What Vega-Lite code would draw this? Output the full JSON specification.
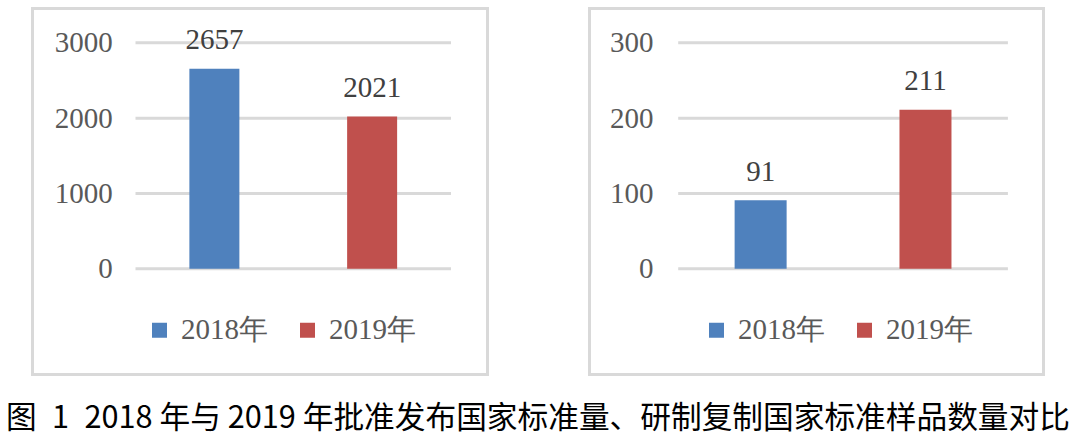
{
  "$schema": "https://vega.github.io/schema/vega-lite/v6.json",
  "background": "white",
  "padding": {"left": 5.5, "top": 6.5, "right": 8, "bottom": 4},
  "title": {
    "text": "图\u20021\u20022018 年与 2019 年批准发布国家标准量、研制复制国家标准样品数量对比",
    "orient": "bottom",
    "anchor": "middle",
    "font": "Noto Sans CJK SC",
    "fontSize": 30.7,
    "fontWeight": "normal",
    "color": "#000000",
    "offset": 28
  },
  "datasets": {
    "standards": [
      {"year": "2018年", "value": 2657},
      {"year": "2019年", "value": 2021}
    ],
    "samples": [
      {"year": "2018年", "value": 91},
      {"year": "2019年", "value": 211}
    ],
    "grid1": [{"g": 0}, {"g": 1000}, {"g": 2000}, {"g": 3000}],
    "grid2": [{"g": 0}, {"g": 100}, {"g": 200}, {"g": 300}]
  },
  "spacing": 98,
  "resolve": {"legend": {"color": "independent"}},
  "hconcat": [
    {
      "width": 455,
      "height": 366,
      "layer": [
        {
          "data": {"name": "grid1"},
          "mark": {"type": "rule", "color": "#d9d9d9", "strokeWidth": 3},
          "encoding": {
            "y": {
              "field": "g", "type": "quantitative",
              "scale": {"domain": [0, 3000], "range": [260.3, 34.3], "nice": false, "zero": true},
              "axis": {"offset": -79.8, "values": [0, 1000, 2000, 3000]}
            },
            "x": {"datum": "2018年", "type": "nominal", "bandPosition": 0, "scale": {"type": "band", "domain": ["2018年", "2019年"], "range": [103, 418.5], "paddingInner": 0, "paddingOuter": 0}, "axis": null},
            "x2": {"datum": "2019年", "bandPosition": 1}
          }
        },
        {
          "data": {"name": "standards"},
          "mark": {"type": "bar", "size": 50},
          "encoding": {
            "x": {"field": "year", "type": "nominal", "axis": null},
            "y": {"field": "value", "type": "quantitative", "axis": {"offset": -79.8, "values": [0, 1000, 2000, 3000]}},
            "color": {
              "field": "year", "type": "nominal",
              "scale": {"domain": ["2018年", "2019年"], "range": ["#4f81bd", "#c0504d"]},
              "legend": {"orient": "none", "legendX": 112.5, "legendY": 307, "direction": "horizontal", "title": null, "symbolType": "square", "symbolSize": 225, "symbolStrokeWidth": 0, "labelFont": "Liberation Serif", "labelFontSize": 29, "labelColor": "#595959", "labelOffset": 7, "columnPadding": 25, "padding": 0}
            }
          }
        },
        {
          "data": {"name": "standards"},
          "mark": {"type": "text", "font": "Liberation Serif", "fontSize": 29, "color": "#404040", "baseline": "alphabetic", "dy": -19.5},
          "encoding": {
            "x": {"field": "year", "type": "nominal", "axis": null},
            "y": {"field": "value", "type": "quantitative", "axis": {"offset": -79.8, "values": [0, 1000, 2000, 3000]}},
            "text": {"field": "value", "type": "quantitative", "format": "d"}
          }
        }
      ]
    },
    {
      "width": 454,
      "height": 366,
      "layer": [
        {
          "data": {"name": "grid2"},
          "mark": {"type": "rule", "color": "#d9d9d9", "strokeWidth": 3},
          "encoding": {
            "y": {
              "field": "g", "type": "quantitative",
              "scale": {"domain": [0, 300], "range": [260.3, 34.3], "nice": false, "zero": true},
              "axis": {"offset": -63.6, "values": [0, 100, 200, 300]}
            },
            "x": {"datum": "2018年", "type": "nominal", "bandPosition": 0, "scale": {"type": "band", "domain": ["2018年", "2019年"], "range": [88.7, 418.4], "paddingInner": 0, "paddingOuter": 0}, "axis": null},
            "x2": {"datum": "2019年", "bandPosition": 1}
          }
        },
        {
          "data": {"name": "samples"},
          "mark": {"type": "bar", "size": 52},
          "encoding": {
            "x": {"field": "year", "type": "nominal", "axis": null},
            "y": {"field": "value", "type": "quantitative", "axis": {"offset": -63.6, "values": [0, 100, 200, 300]}},
            "color": {
              "field": "year", "type": "nominal",
              "scale": {"domain": ["2018年", "2019年"], "range": ["#4f81bd", "#c0504d"]},
              "legend": {"orient": "none", "legendX": 112.5, "legendY": 307, "direction": "horizontal", "title": null, "symbolType": "square", "symbolSize": 225, "symbolStrokeWidth": 0, "labelFont": "Liberation Serif", "labelFontSize": 29, "labelColor": "#595959", "labelOffset": 7, "columnPadding": 25, "padding": 0}
            }
          }
        },
        {
          "data": {"name": "samples"},
          "mark": {"type": "text", "font": "Liberation Serif", "fontSize": 29, "color": "#404040", "baseline": "alphabetic", "dy": -19.5},
          "encoding": {
            "x": {"field": "year", "type": "nominal", "axis": null},
            "y": {"field": "value", "type": "quantitative", "axis": {"offset": -63.6, "values": [0, 100, 200, 300]}},
            "text": {"field": "value", "type": "quantitative", "format": "d"}
          }
        }
      ]
    }
  ],
  "config": {
    "view": {"stroke": "#d9d9d9", "strokeWidth": 3},
    "font": "Liberation Serif",
    "axisY": {
      "title": null,
      "grid": false,
      "domain": false,
      "ticks": false,
      "tickSize": 0,
      "labelPadding": 0,
      "format": "d",
      "labelFont": "Liberation Serif",
      "labelFontSize": 29,
      "labelColor": "#595959",
      "labelOverlap": false,
      "labelFlush": false
    }
  }
}
